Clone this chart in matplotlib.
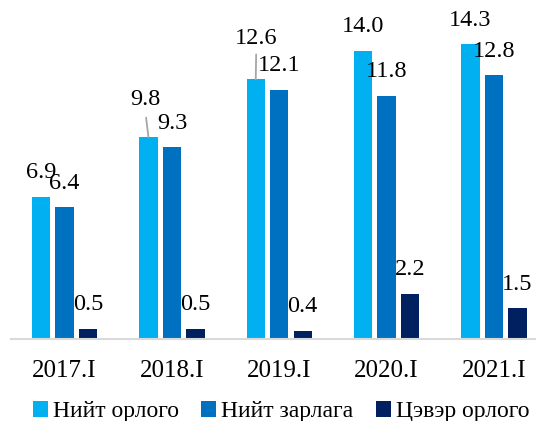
import numpy as np
import matplotlib.pyplot as plt

plt.rcParams["font.family"] = ["Liberation Serif", "DejaVu Serif"]
plt.rcParams.update({'font.size': 17})

#%% data
categories = ['2017.I', '2018.I', '2019.I', '2020.I', '2021.I']
series_names = ['Нийт орлого', 'Нийт зарлага', 'Цэвэр орлого']
income = [6.9, 9.8, 12.6, 14.0, 14.3]
expense = [6.4, 9.3, 12.1, 11.8, 12.8]
net = [0.5, 0.5, 0.4, 2.2, 1.5]

colors = ['#00B0F0', '#0070C0', '#002060']

#%% plot
fig = plt.figure(figsize=(5.36, 4.21), dpi=100)
ax = fig.add_axes([11/536, 82/421, 1 - 11/536, 329.6/421])

x = np.arange(len(categories))
off = 0.219
w = 0.172
for i, (vals, c, name) in enumerate(zip([income, expense, net], colors, series_names)):
    ax.bar(x + (i - 1)*off, vals, w, color=c, label=name)

# value labels (center ~24px above bar top)
lab_off = 17.3
for i, vals in enumerate([income, expense, net]):
    for j, v in enumerate(vals):
        dx, dy = 0, lab_off
        if i == 0 and j == 1:
            dx, dy = -2.2, lab_off + 9.5
        if i == 0 and j == 2:
            dy = lab_off + 12.3
        ax.annotate(f'{v:.1f}', (x[j] + (i - 1)*off, v), xytext=(dx, dy),
                    textcoords='offset points', ha='center', va='center', fontsize=17.5)

# leader lines
ax.annotate('', (x[1] - off, income[1]), xytext=(-1.7, 14), textcoords='offset points',
            arrowprops=dict(arrowstyle='-', color='#a6a6a6', lw=1.3, shrinkA=0, shrinkB=0))
ax.annotate('', (x[2] - off, income[2]), xytext=(0.3, 18), textcoords='offset points',
            arrowprops=dict(arrowstyle='-', color='#a6a6a6', lw=1.3, shrinkA=0, shrinkB=0))

ax.set_xlim(-0.5, 4.393)
ax.set_ylim(0, 16)
ax.set_xticks(x)
ax.set_xticklabels(categories, fontsize=18)
ax.tick_params(axis='x', length=0, pad=15)
ax.set_yticks([])
for s in ['top', 'right', 'left']:
    ax.spines[s].set_visible(False)
ax.spines['bottom'].set_color('#d9d9d9')
ax.spines['bottom'].set_linewidth(1.5)

fig.legend(loc='center', bbox_to_anchor=(0.524, 0.022), ncol=3, frameon=False,
           handlelength=0.65, handleheight=0.65, handletextpad=0.2, columnspacing=0.95,
           fontsize=17)

fig.savefig('out.png', dpi=100)
